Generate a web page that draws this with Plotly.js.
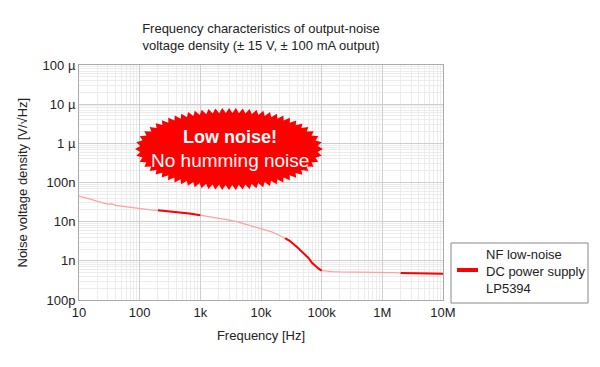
<!DOCTYPE html>
<html>
<head>
<meta charset="utf-8">
<script src="https://cdn.plot.ly/plotly-3.0.1.min.js"></script>
<style>html,body{margin:0;padding:0;background:#fff;}#chart{width:600px;height:367px;}</style>
</head>
<body>
<div id="chart"></div>
<script>
// ---- data ----
const freqHz = [10,12,15,18,20,25,30,35,40,50,60,70,80,100,120,150,200,250,300,400,500,600,700,800,1000,
  1200,1500,2000,3000,4000,5000,7000,10000,15000,20000,25000,30000,40000,50000,60000,70000,80000,90000,100000,
  120000,150000,200000,300000,500000,700000,1e6,1.5e6,2e6,3e6,5e6,7e6,1e7];
const noiseV = [45e-9,42e-9,38e-9,35e-9,33e-9,30e-9,28e-9,28.5e-9,26e-9,25e-9,24e-9,23e-9,22.5e-9,21e-9,20.5e-9,20e-9,19.5e-9,19e-9,18.5e-9,17.5e-9,17e-9,16.5e-9,16e-9,15.5e-9,14.5e-9,
  14e-9,13.5e-9,12.5e-9,11e-9,10e-9,9e-9,7.8e-9,6.7e-9,5.5e-9,4.5e-9,3.8e-9,3.2e-9,2.2e-9,1.6e-9,1.2e-9,0.88e-9,0.72e-9,0.62e-9,0.56e-9,
  0.54e-9,0.53e-9,0.52e-9,0.52e-9,0.51e-9,0.5e-9,0.51e-9,0.5e-9,0.49e-9,0.48e-9,0.47e-9,0.47e-9,0.47e-9];
// frequency ranges where the measured trace is dense (drawn darker)
const denseRanges = [[200,1000],[25000,100000],[2e6,1e7]];
const xTickVals = [10,100,1e3,1e4,1e5,1e6,1e7];
const xTickText = ['10','100','1k','10k','100k','1M','10M'];
const yTickVals = [1e-10,1e-9,1e-8,1e-7,1e-6,1e-5,1e-4];
const yTickText = ['100p','1n','10n','100n','1 µ','10 µ','100 µ'];
const seriesName = ['NF low-noise','DC power supply','LP5394'];

// ---- geometry of plot area (px) ----
const W = 600, H = 367, L = 79, R = 157, T = 65, B = 67;
const PW = W - L - R, PH = H - T - B;
const px2x = p => (p - L) / PW;
const px2y = p => (H - B - p) / PH;

const FONT = '"Liberation Sans", Arial, Helvetica, sans-serif';

const traces = [{
  x: freqHz, y: noiseV, type: 'scatter', mode: 'lines',
  line: {color: '#ffa0a0', width: 1.2}, showlegend: false, hoverinfo: 'skip'
}];
denseRanges.forEach(r => {
  const xs = [], ys = [];
  freqHz.forEach((f, i) => { if (f >= r[0] && f <= r[1]) { xs.push(f); ys.push(noiseV[i]); } });
  traces.push({x: xs, y: ys, type: 'scatter', mode: 'lines',
    line: {color: '#ff0000', width: 2}, showlegend: false, hoverinfo: 'skip'});
});

// starburst path
function burstPath(cx, cy, a, b, depth, n) {
  const steps = 4000, cum = [0];
  let prev = [a, 0];
  for (let i = 1; i <= steps; i++) {
    const t = 2 * Math.PI * i / steps;
    const p = [a * Math.cos(t), b * Math.sin(t)];
    cum.push(cum[i - 1] + Math.hypot(p[0] - prev[0], p[1] - prev[1]));
    prev = p;
  }
  const total = cum[steps];
  let d = '', j = 0;
  for (let k = 0; k < 2 * n; k++) {
    const s = total * k / (2 * n);
    while (j < steps && cum[j + 1] < s) j++;
    const t = 2 * Math.PI * j / steps;
    const rr = (k % 2 === 0) ? 0 : depth;
    const x = cx + (a - rr) * Math.cos(t);
    const y = cy - (b - rr) * Math.sin(t);
    d += (k === 0 ? 'M' : 'L') + px2x(x).toFixed(5) + ',' + px2y(y).toFixed(5);
  }
  return d + 'Z';
}

const shapes = [
  {type: 'path', xref: 'paper', yref: 'paper', path: burstPath(229, 149, 94, 41, 5, 64),
   fillcolor: '#ff0000', line: {width: 0}, layer: 'above'},
  // legend box
  {type: 'rect', xref: 'paper', yref: 'paper', x0: px2x(451), x1: px2x(588), y0: px2y(243), y1: px2y(303),
   line: {color: '#888', width: 1}, fillcolor: '#fff'},
  {type: 'line', xref: 'paper', yref: 'paper', x0: px2x(457), x1: px2x(478), y0: px2y(270), y1: px2y(270),
   line: {color: '#ff0000', width: 4}}
];

const annotations = [
  {xref: 'paper', yref: 'paper', x: px2x(230), y: px2y(137), xanchor: 'center', yanchor: 'middle',
   text: '<b>Low noise!</b>', showarrow: false, font: {family: FONT, size: 18, color: '#fff'}},
  {xref: 'paper', yref: 'paper', x: px2x(230), y: px2y(160), xanchor: 'center', yanchor: 'middle',
   text: 'No humming noise', showarrow: false, font: {family: FONT, size: 19, color: '#fff'}},
  {xref: 'paper', yref: 'paper', x: px2x(484), y: px2y(271), xanchor: 'left', yanchor: 'middle', align: 'left',
   text: seriesName.join('<br>'), showarrow: false, font: {family: FONT, size: 13, color: '#222'}},
  {xref: 'paper', yref: 'paper', x: px2x(22), y: 0.5, xanchor: 'center', yanchor: 'middle', textangle: -90,
   showarrow: false, text: 'Noise voltage density [V/√Hz]', font: {family: FONT, size: 13, color: '#222'}}
];

const layout = {
  width: W, height: H,
  margin: {l: L, r: R, t: T, b: B},
  paper_bgcolor: '#fff', plot_bgcolor: '#fff',
  font: {family: FONT, size: 13, color: '#222'},
  title: {text: 'Frequency characteristics of output-noise<br>voltage density (± 15 V, ± 100 mA output)',
    x: 0.5, xref: 'paper', xanchor: 'center', y: 1 - 33 / H, yref: 'container', yanchor: 'top',
    font: {family: FONT, size: 13, color: '#222'}},
  xaxis: {type: 'log', range: [1, 7], tickmode: 'array', tickvals: xTickVals, ticktext: xTickText,
    showgrid: true, gridcolor: '#cfcfcf', gridwidth: 1,
    minor: {dtick: 'D1', showgrid: true, gridcolor: '#ececec', ticks: ''},
    showline: true, linecolor: '#aaa', mirror: true, ticks: '', zeroline: false,
    tickfont: {family: FONT, size: 13, color: '#222'},
    title: {text: 'Frequency [Hz]', standoff: 12, font: {family: FONT, size: 13, color: '#222'}}},
  yaxis: {type: 'log', range: [-10, -4], tickmode: 'array', tickvals: yTickVals, ticktext: yTickText,
    showgrid: true, gridcolor: '#cfcfcf', gridwidth: 1,
    minor: {dtick: 'D1', showgrid: true, gridcolor: '#ececec', ticks: ''},
    showline: true, linecolor: '#aaa', mirror: true, ticks: '', zeroline: false,
    tickfont: {family: FONT, size: 13, color: '#222'}},
  shapes: shapes,
  annotations: annotations,
  showlegend: false
};

Plotly.newPlot('chart', traces, layout, {staticPlot: true, displayModeBar: false});
</script>
</body>
</html>
